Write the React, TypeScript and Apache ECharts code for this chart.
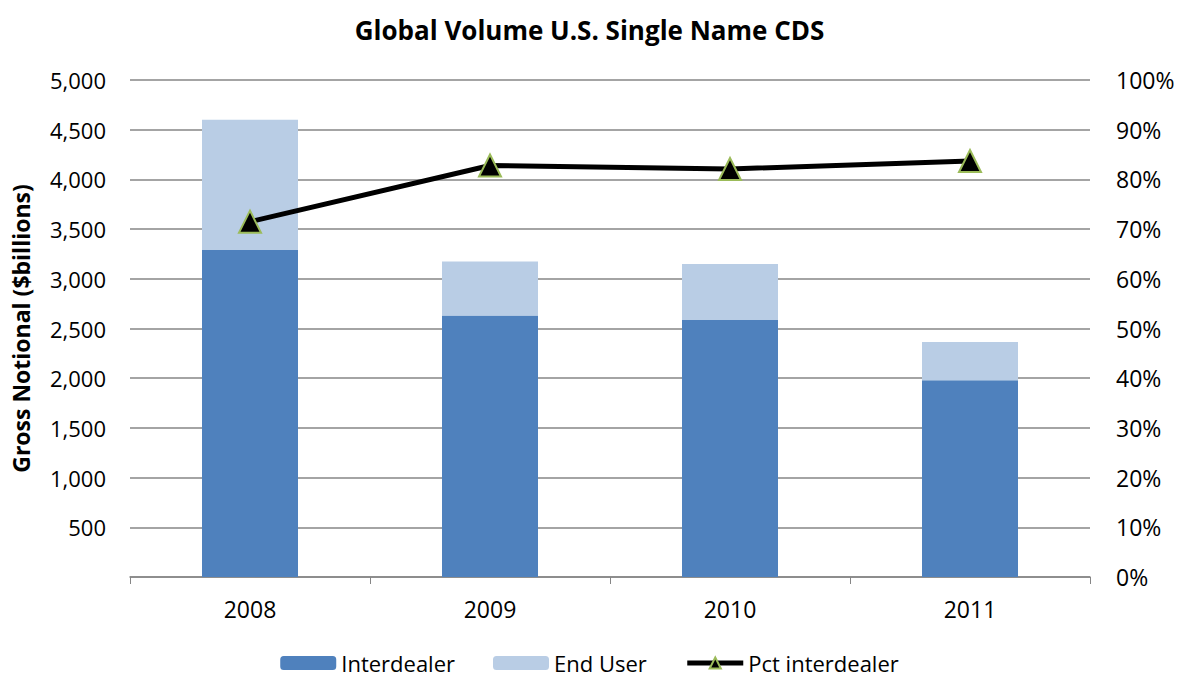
import React, { useEffect, useRef } from "react";
import * as echarts from "echarts";

const years = ["2008", "2009", "2010", "2011"];
const interdealer = [3290, 2630, 2585, 1980];
const endUser = [1310, 545, 565, 385];
const pctInterdealer = [71.5, 82.8, 82.1, 83.7];
const leftTicks = { min: 0, max: 5000, interval: 500 };
const rightTicks = { min: 0, max: 100, interval: 10 };

const FONT = "'Open Sans', 'Liberation Sans', sans-serif";

export default function App() {
  const ref = useRef<HTMLDivElement>(null);
  useEffect(() => {
    if (!ref.current) return;
    const chart = echarts.init(ref.current, null, { renderer: "svg" });
    chart.setOption({
      animation: false,
      textStyle: { fontFamily: FONT },
      title: {
        text: "Global Volume U.S. Single Name CDS",
        left: "center",
        top: 12,
        textStyle: { fontFamily: FONT, fontSize: 26, fontWeight: "bold", color: "#000" },
      },
      grid: { left: 130, right: 89, top: 80, bottom: 100 },
      legend: {
        bottom: -2,
        left: "center",
        itemWidth: 56,
        itemHeight: 14,
        itemGap: 38,
        textStyle: { fontFamily: FONT, fontSize: 22, color: "#000" },
        data: [
          "Interdealer",
          "End User",
          {
            name: "Pct interdealer",
            lineStyle: { width: 5, color: "#000" },
            itemStyle: { color: "#000", borderColor: "#9BBB59", borderWidth: 2 },
          },
        ],
      },
      xAxis: {
        type: "category",
        data: years,
        axisLine: { lineStyle: { color: "#868686", width: 1.5 } },
        axisTick: { show: true, alignWithLabel: false, length: 7, lineStyle: { color: "#868686" } },
        axisLabel: { fontSize: 23, color: "#000", margin: 20, fontFamily: FONT },
      },
      yAxis: [
        {
          type: "value",
          ...leftTicks,
          name: "Gross Notional ($billions)",
          nameLocation: "middle",
          nameGap: 98,
          nameRotate: 90,
          nameTextStyle: { fontFamily: FONT, fontSize: 23, fontWeight: "bold", color: "#000" },
          axisLine: { show: false },
          axisTick: { show: false },
          splitLine: { lineStyle: { color: "#868686", width: 1.5 } },
          axisLabel: {
            fontSize: 22,
            color: "#000",
            margin: 24,
            fontFamily: FONT,
            formatter: (v: number) => (v === 0 ? "" : v.toLocaleString("en-US")),
          },
        },
        {
          type: "value",
          ...rightTicks,
          position: "right",
          axisLine: { show: false },
          axisTick: { show: false },
          splitLine: { show: false },
          axisLabel: {
            fontSize: 23,
            color: "#000",
            margin: 26,
            fontFamily: FONT,
            formatter: (v: number) => v + "%",
          },
        },
      ],
      series: [
        {
          name: "Interdealer",
          type: "bar",
          stack: "vol",
          barWidth: "40%",
          data: interdealer,
          itemStyle: { color: "#4F81BD" },
        },
        {
          name: "End User",
          type: "bar",
          stack: "vol",
          barWidth: "40%",
          data: endUser,
          itemStyle: { color: "#B9CDE5" },
        },
        {
          name: "Pct interdealer",
          type: "line",
          yAxisIndex: 1,
          data: pctInterdealer,
          symbol: "triangle",
          symbolSize: 22,
          lineStyle: { color: "#000", width: 5 },
          itemStyle: { color: "#000", borderColor: "#9BBB59", borderWidth: 2 },
        },
      ],
    });
    return () => chart.dispose();
  }, []);
  return <div ref={ref} style={{ width: 1179, height: 677, position: "absolute", left: 0, top: 0 }} />;
}
